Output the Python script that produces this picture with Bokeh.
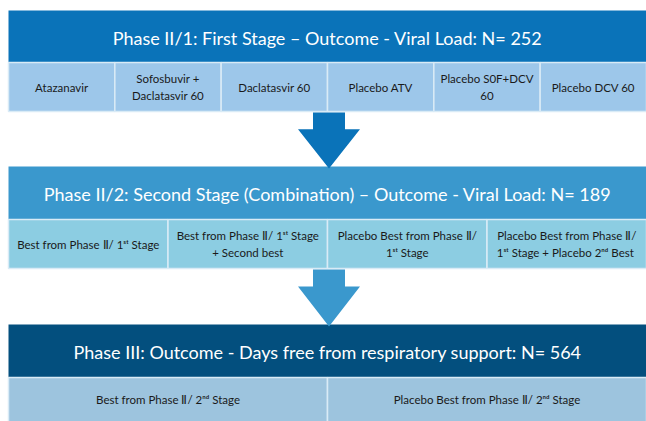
from bokeh.plotting import figure
from bokeh.models import Range1d, ColumnDataSource
from bokeh.core.properties import value
from bokeh.embed import file_html
from bokeh.resources import INLINE

# ---- content ----
stage_titles = [
    "Phase II/1: First Stage \u2013 Outcome - Viral Load: N= 252",
    "Phase II/2: Second Stage (Combination) \u2013 Outcome - Viral Load: N= 189",
    "Phase III: Outcome - Days free from respiratory support: N= 564",
]
stage1_arms = ["Atazanavir", "Sofosbuvir +\nDaclatasvir 60", "Daclatasvir 60",
               "Placebo ATV", "Placebo S0F+DCV\n60", "Placebo DCV 60"]
stage2_arms = ["Best from Phase \u2161/ 1\u02e2\u1d57 Stage",
               "Best from Phase \u2161/ 1\u02e2\u1d57 Stage\n+ Second best",
               "Placebo Best from Phase \u2161/\n1\u02e2\u1d57 Stage",
               "Placebo Best from Phase \u2161/\n1\u02e2\u1d57 Stage + Placebo 2\u207f\u1d48  Best"]
stage3_arms = ["Best from Phase \u2161/ 2\u207f\u1d48 Stage",
               "Placebo Best from Phase \u2161/ 2\u207f\u1d48 Stage"]
arms = [stage1_arms, stage2_arms, stage3_arms]

# ---- styling / layout ----
band_colors = ["#0a73b9", "#3a98cd", "#034f7e"]
cell_colors = ["#9dc7ea", "#8ccde2", "#9dc4de"]
arrow_colors = ["#0a73b9", "#3a98cd"]
band_top = [10, 166, 324]
band_bot = [62, 219, 377]
cell_bot = [111, 268, 430]
title_font = [18, 18, 18]
cell_font = [11.5, 11.5, 11.5]
X0, X1 = 8, 646
FONT = "Lato"

W, H = 646, 421
p = figure(width=W, height=H, output_backend="svg", toolbar_location=None,
           x_range=Range1d(0, W), y_range=Range1d(H, 0),
           min_border=0, background_fill_color="white", border_fill_color="white")
p.axis.visible = False
p.grid.visible = False
p.outline_line_color = None

cx = 328.5  # arrow centre

for i, title in enumerate(stage_titles):
    # band
    p.quad(left=X0, right=X1, top=band_top[i], bottom=band_bot[i],
           fill_color=band_colors[i], line_color=None)
    p.text(x=[(X0 + X1) / 2.0], y=[(band_top[i] + band_bot[i]) / 2.0 + 1], text=[title],
           text_font=value(FONT), text_font_size=f"{title_font[i]}px", text_color="white",
           text_align="center", text_baseline="middle")
    # cells
    n = len(arms[i])
    w = (X1 - X0) / n
    lefts = [X0 + k * w for k in range(n)]
    src = ColumnDataSource(dict(left=lefts, right=[l + w for l in lefts],
                                cx=[l + w / 2 for l in lefts], lab=arms[i]))
    p.quad(left="left", right="right", top=band_bot[i], bottom=cell_bot[i], source=src,
           fill_color=cell_colors[i], line_color="#d9ebf6", line_width=1.5)
    p.text(x="cx", y=(band_bot[i] + min(cell_bot[i], 421)) / 2.0 + (0 if i < 2 else -0.5),
           text="lab", source=src,
           text_font=value(FONT), text_font_size=f"{cell_font[i]}px", text_color="#1a1a1a",
           text_align="center", text_baseline="middle", text_line_height=1.3)

# arrows between stages
for j in range(2):
    top = cell_bot[j] + 1
    tip = band_top[j + 1] + 2
    neck = top + (tip - top) * 0.3
    xs = [cx - 16, cx + 16, cx + 16, cx + 31, cx, cx - 31, cx - 16]
    ys = [top, top, neck, neck, tip, neck, neck]
    p.patch(xs, ys, fill_color=arrow_colors[j], line_color=None)

open("out.html", "w").write(file_html(p, INLINE))
